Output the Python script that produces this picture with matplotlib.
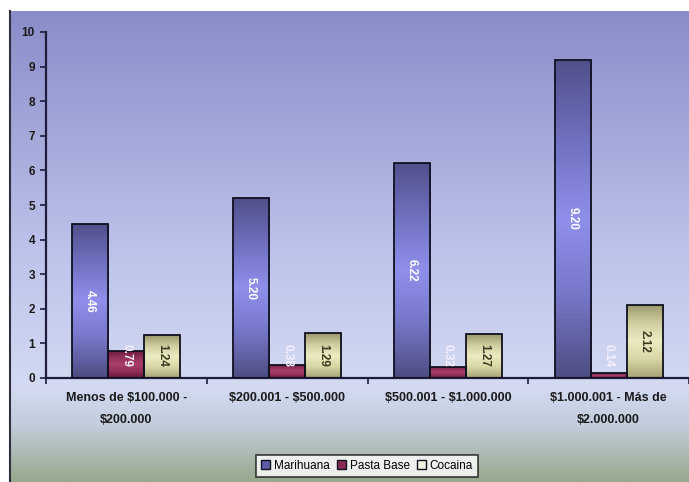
"""Grouped bar chart: Marihuana / Pasta Base / Cocaina by income bracket."""
import numpy as np
import matplotlib
matplotlib.use("Agg")
import matplotlib.pyplot as plt
from matplotlib.colors import LinearSegmentedColormap
from matplotlib.lines import Line2D
from matplotlib.patches import Patch

# Data
categories = [
    "Menos de $100.000 -\n$200.000",
    "$200.001 - $500.000",
    "$500.001 - $1.000.000",
    "$1.000.001 - Más de\n$2.000.000",
]
series_names = ["Marihuana", "Pasta Base", "Cocaina"]
marihuana = [4.46, 5.20, 6.22, 9.20]
pasta_base = [0.79, 0.38, 0.32, 0.14]
cocaina = [1.24, 1.29, 1.27, 2.12]
y_ticks = list(range(0, 11))

plt.rcParams["font.family"] = ["Liberation Sans", "DejaVu Sans"]

fig = plt.figure(figsize=(6.89, 4.82), dpi=100)
W, H = 689.0, 482.0

# Background gradient (chart area of the picture)
bg_cmap = LinearSegmentedColormap.from_list(
    "bg",
    [(0.0, "#8a8cc8"), (0.5, "#bcc2ea"), (0.8, "#d3daf2"),
     (0.88, "#c3cddc"), (1.0, "#97a98c")],
)
bg_ax = fig.add_axes([10 / W, 0, 1 - 10 / W, 471 / H])
bg_ax.imshow(np.linspace(0, 1, 256).reshape(-1, 1), cmap=bg_cmap,
             aspect="auto", extent=(0, 1, 0, 1))
bg_ax.set_axis_off()
fig.add_artist(Line2D([9.5 / W, 9.5 / W], [0, 471 / H], color="#303040",
                      lw=1.5, transform=fig.transFigure))

# Main axes
ax = fig.add_axes([46 / W, (H - 378) / H, (W - 46) / W, (378 - 32) / H])
ax.patch.set_alpha(0)

x = np.arange(len(categories))
bw = 0.224
colors = {
    "Marihuana": ["#4e4e84", "#7676c8", "#9090ec", "#7070c0", "#50508c"],
    "Pasta Base": ["#6a1838", "#94305c", "#a84068", "#90305a", "#6a1838"],
    "Cocaina": ["#a8a478", "#d8d6a4", "#ecebc2", "#d0cea0", "#9c9a6c"],
}
label_colors = {"Marihuana": "white", "Pasta Base": "#f4f0ff",
                "Cocaina": "#3a3a20"}

for i, (name, vals) in enumerate(zip(series_names,
                                     [marihuana, pasta_base, cocaina])):
    offs = (i - 1) * bw
    bars = ax.bar(x + offs, vals, bw, facecolor="none", edgecolor="#101020",
                  lw=1.3, zorder=3)
    cmap = LinearSegmentedColormap.from_list(name, colors[name])
    for b, v in zip(bars, vals):
        x0 = b.get_x()
        im = ax.imshow(np.linspace(1, 0, 64).reshape(-1, 1), cmap=cmap,
                       aspect="auto", extent=(x0, x0 + bw, 0, v), zorder=2)
        im.set_clip_path(b)
        ypos = max(v / 2, 0.65)
        ax.text(x0 + bw / 2, ypos, f"{v:.2f}", rotation=270, ha="center",
                va="center", fontsize=8.5, fontweight="bold",
                color=label_colors[name], zorder=4)

ax.set_xlim(-0.5, len(categories) - 0.5)
ax.set_ylim(0, 10)

# Axes styling
for s in ["top", "right"]:
    ax.spines[s].set_visible(False)
for s in ["left", "bottom"]:
    ax.spines[s].set_color("#1e1e3c")
    ax.spines[s].set_linewidth(1.6)

ax.set_yticks(y_ticks)
ax.set_yticklabels([str(t) for t in y_ticks], fontsize=8.5, fontweight="bold",
                   color="#1a1a1a")
ax.tick_params(axis="y", length=4, width=1.2, color="#1e1e3c", pad=4)

ax.set_xticks(x)
ax.set_xticklabels(categories, fontsize=9, fontweight="bold",
                   color="#1a1a1a", linespacing=2.1, parse_math=False)
ax.tick_params(axis="x", which="major", length=0, pad=10)
ax.set_xticks(np.arange(-0.5, len(categories) + 0.5, 1), minor=True)
ax.tick_params(axis="x", which="minor", length=4, width=1.2,
               color="#1e1e3c")

# Legend
handles = [Patch(facecolor=c, edgecolor="#101020", lw=1)
           for c in ["#5c5ca8", "#8a2a52", "#f2f2e0"]]
leg = fig.legend(handles, series_names, loc="center",
                 bbox_to_anchor=(367 / W, 16 / H), ncol=3, fontsize=8.5,
                 frameon=True, fancybox=False, handlelength=0.8,
                 handleheight=0.8, handletextpad=0.3, columnspacing=0.6,
                 borderpad=0.45)
leg.get_frame().set_edgecolor("#101010")
leg.get_frame().set_linewidth(1.2)
leg.get_frame().set_facecolor("white")

fig.savefig("out.png", dpi=100)
